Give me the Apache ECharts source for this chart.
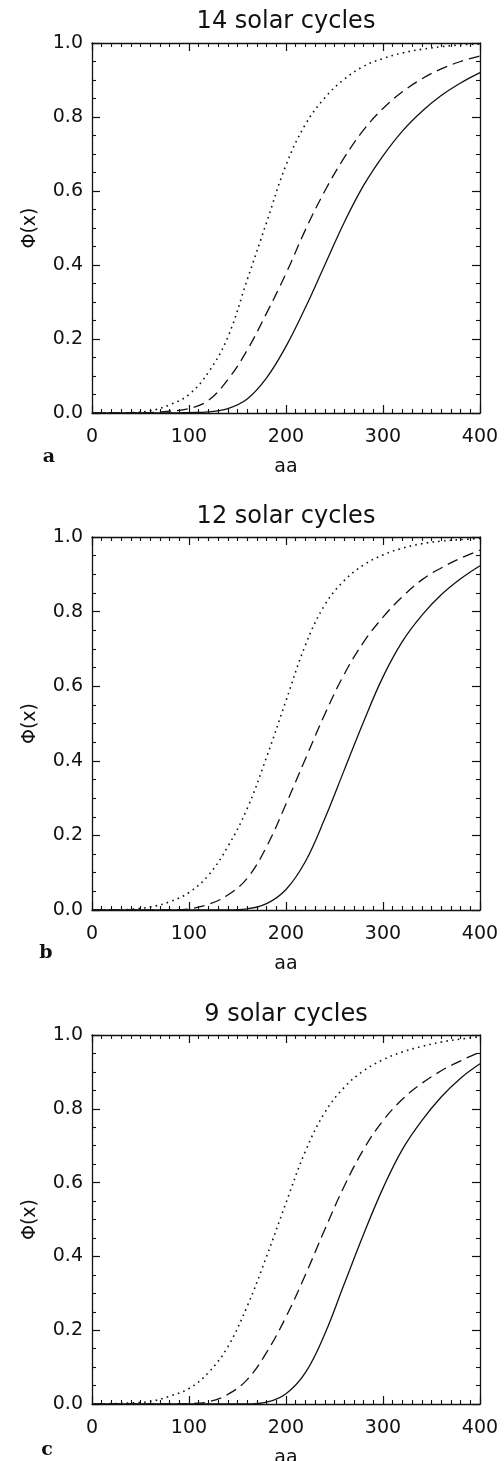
<!DOCTYPE html>
<html>
<head>
<meta charset="utf-8">
<script src="https://cdn.jsdelivr.net/npm/echarts@6/dist/echarts.min.js"></script>
<style>
  html, body { margin: 0; padding: 0; background: #fff; }
  #chart { width: 504px; height: 1461px; }
</style>
</head>
<body>
<div id="chart"></div>
<script>
const aa = [0, 20, 40, 60, 80, 100, 120, 140, 160, 180, 200, 220, 240, 260, 280, 300, 320, 340, 360, 380, 400];

// panel a: 14 solar cycles
const solidA  = [0, 0, 0, 0, 0, 0.001, 0.003, 0.012, 0.038, 0.095, 0.18, 0.285, 0.40, 0.515, 0.615, 0.695, 0.762, 0.815, 0.858, 0.892, 0.92];
const dashedA = [0, 0, 0, 0.001, 0.005, 0.012, 0.034, 0.09, 0.17, 0.27, 0.377, 0.495, 0.6, 0.69, 0.765, 0.823, 0.868, 0.903, 0.93, 0.95, 0.965];
const dottedA = [0, 0, 0.001, 0.006, 0.022, 0.05, 0.11, 0.205, 0.36, 0.515, 0.67, 0.78, 0.852, 0.902, 0.937, 0.958, 0.973, 0.983, 0.99, 0.995, 0.997];

// panel b: 12 solar cycles
const solidB  = [0, 0, 0, 0, 0, 0, 0, 0, 0.003, 0.017, 0.055, 0.13, 0.245, 0.375, 0.505, 0.625, 0.72, 0.79, 0.845, 0.888, 0.923];
const dashedB = [0, 0, 0, 0, 0, 0.003, 0.015, 0.04, 0.085, 0.17, 0.284, 0.405, 0.525, 0.632, 0.718, 0.785, 0.84, 0.885, 0.917, 0.943, 0.965];
const dottedB = [0, 0, 0.002, 0.008, 0.022, 0.047, 0.093, 0.17, 0.272, 0.41, 0.561, 0.71, 0.818, 0.883, 0.925, 0.952, 0.97, 0.982, 0.989, 0.993, 0.996];

// panel c: 9 solar cycles
const solidC  = [0, 0, 0, 0, 0, 0, 0, 0, 0, 0.005, 0.028, 0.085, 0.19, 0.325, 0.46, 0.585, 0.69, 0.768, 0.832, 0.883, 0.922];
const dashedC = [0, 0, 0, 0, 0, 0.001, 0.006, 0.026, 0.066, 0.14, 0.236, 0.35, 0.473, 0.59, 0.69, 0.768, 0.826, 0.869, 0.903, 0.93, 0.954];
const dottedC = [0, 0.001, 0.003, 0.007, 0.021, 0.042, 0.085, 0.155, 0.265, 0.4, 0.545, 0.685, 0.79, 0.858, 0.903, 0.933, 0.954, 0.969, 0.981, 0.989, 0.995];

const titles  = ['14 solar cycles', '12 solar cycles', '9 solar cycles'];
const letters = ['a', 'b', 'c'];
const xTitle = 'aa';
const yTitle = 'Φ(x)';

const curves = [
  [solidA, dashedA, dottedA],
  [solidB, dashedB, dottedB],
  [solidC, dashedC, dottedC]
];

// layout of the three stacked panels
const panelTop    = [43, 537, 1035];
const panelHeight = [370, 373, 369];
const titleY  = [22, 517, 1015];
const letterY = [457, 953, 1450];
const letterX = [49, 46, 47];

const font = 'DejaVu Sans';
const ink = '#111';

let myChart = echarts.init(document.getElementById('chart'), null, { renderer: 'canvas' });

const grids = [], xAxes = [], yAxes = [], series = [], graphics = [];
// onZero off, otherwise the top/right axes collapse onto the bottom/left ones
const frameLine = { show: true, onZero: false, lineStyle: { color: ink, width: 1.3 } };
const tick = { show: true, inside: true, length: 8, lineStyle: { color: ink, width: 1.2 } };
const minorX = { show: true, splitNumber: 10, length: 4, lineStyle: { color: ink, width: 1.1 } };
const minorY = { show: true, splitNumber: 4, length: 4, lineStyle: { color: ink, width: 1.1 } };
const styles = [
  { type: 'solid', width: 1.3 },
  { type: [11, 6], width: 1.3 },
  { type: [1.6, 4.2], width: 1.6 }
];

for (let i = 0; i < 3; i++) {
  grids.push({ left: 92, width: 388, top: panelTop[i], height: panelHeight[i], outerBoundsMode: 'none', containLabel: false });

  // bottom x axis with labels
  xAxes.push({
    type: 'value', gridIndex: i, position: 'bottom', min: 0, max: 400, interval: 100,
    name: xTitle, nameLocation: 'middle', nameGap: 45,
    nameTextStyle: { fontFamily: font, fontSize: 19, color: ink },
    axisLine: frameLine, axisTick: tick, minorTick: minorX,
    axisLabel: { margin: 15, fontFamily: font, fontSize: 19, color: ink },
    splitLine: { show: false }
  });
  // top x axis, ticks only
  xAxes.push({
    type: 'value', gridIndex: i, position: 'top', min: 0, max: 400, interval: 100,
    axisLine: frameLine, axisTick: tick, minorTick: minorX,
    axisLabel: { show: false }, splitLine: { show: false }
  });
  // left y axis with labels
  yAxes.push({
    type: 'value', gridIndex: i, position: 'left', min: 0, max: 1, interval: 0.2,
    name: yTitle, nameLocation: 'middle', nameGap: 52, nameRotate: 90,
    nameTextStyle: { fontFamily: font, fontSize: 19, color: ink },
    axisLine: frameLine, axisTick: tick, minorTick: minorY,
    axisLabel: { margin: 9, fontFamily: font, fontSize: 19, color: ink, formatter: v => v.toFixed(1) },
    splitLine: { show: false }
  });
  // right y axis, ticks only
  yAxes.push({
    type: 'value', gridIndex: i, position: 'right', min: 0, max: 1, interval: 0.2,
    axisLine: frameLine, axisTick: tick, minorTick: minorY,
    axisLabel: { show: false }, splitLine: { show: false }
  });

  curves[i].forEach((vals, k) => {
    series.push({
      type: 'line',
      xAxisIndex: i * 2, yAxisIndex: i * 2,
      data: aa.map((x, j) => [x, vals[j]]),
      showSymbol: false, symbol: 'none',
      smooth: 0.4,
      lineStyle: Object.assign({ color: ink }, styles[k]),
      animation: false, silent: true
    });
  });

  graphics.push({
    type: 'text', x: 286, y: titleY[i],
    style: { text: titles[i], font: '24px "DejaVu Sans"', fill: ink, align: 'center', verticalAlign: 'middle' }
  });
  graphics.push({
    type: 'text', x: letterX[i], y: letterY[i],
    style: { text: letters[i], font: 'bold 19px "DejaVu Serif"', fill: ink, align: 'center', verticalAlign: 'middle' }
  });
}

let option = {
  backgroundColor: '#fff',
  animation: false,
  grid: grids,
  xAxis: xAxes,
  yAxis: yAxes,
  series: series,
  graphic: graphics
};
myChart.setOption(option);
</script>
</body>
</html>
